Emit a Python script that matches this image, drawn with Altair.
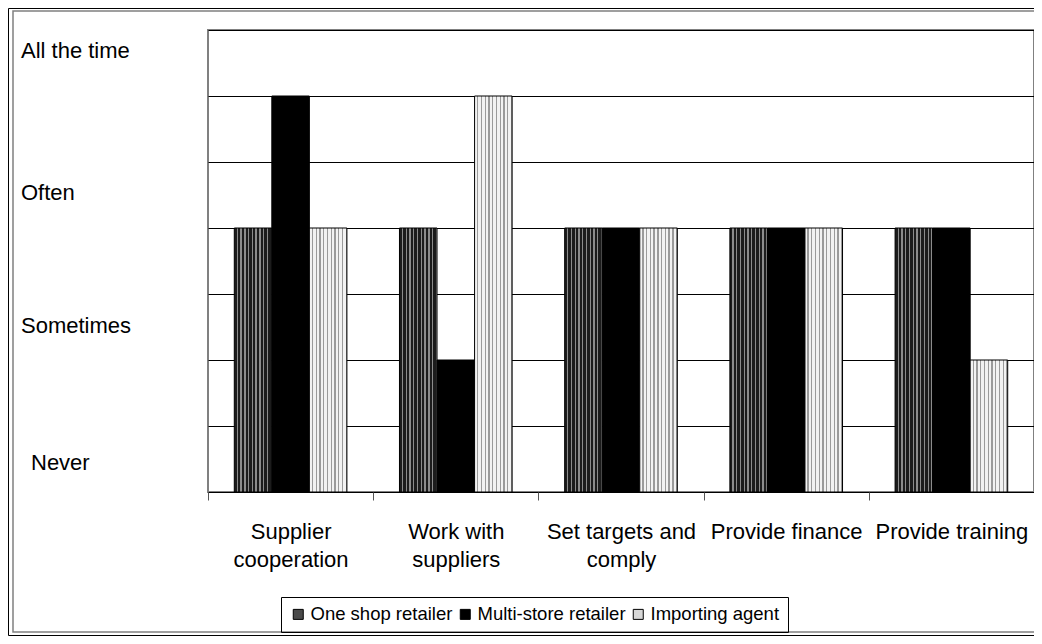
import json
import altair as alt
import pandas as pd

# ---------------- data ----------------
categories = ["Supplier cooperation", "Work with suppliers", "Set targets and comply",
              "Provide finance", "Provide training"]
wrapped = [["Supplier", "cooperation"], ["Work with", "suppliers"], ["Set targets and", "comply"],
           ["Provide finance"], ["Provide training"]]
series = ["One shop retailer", "Multi-store retailer", "Importing agent"]
one_shop = [4, 4, 4, 4, 4]
multi_store = [6, 2, 4, 4, 4]
importing = [4, 6, 4, 4, 2]

levels = ["All the time", "Often", "Sometimes"]
level_pos = [6.58, 4.42, 2.41]
never_label = ["Never"]
never_pos = [0.33]

rows = []
for s, vals in zip(series, [one_shop, multi_store, importing]):
    for c, v in zip(categories, vals):
        rows.append({"category": c, "series": s, "value": v})
df = pd.DataFrame(rows)

FONT = "Liberation Sans"


def stripes(c1, c2, n, frac):
    stops = []
    for i in range(n):
        a = i / n
        m = (i + 1 - frac) / n
        b = (i + 1) / n
        stops += [{"offset": a, "color": c1}, {"offset": m, "color": c1},
                  {"offset": m, "color": c2}, {"offset": b, "color": c2}]
    return {"gradient": "linear", "x1": 0, "y1": 0, "x2": 1, "y2": 0, "stops": stops}


grad_one = stripes("#1c1c1c", "#8c8c8c", 10, 0.35)
grad_imp = stripes("#f2f2f2", "#9a9a9a", 10, 0.35)

label_expr = " : ".join(
    f"datum.label == '{c}' ? {json.dumps(w)}" for c, w in zip(categories, wrapped)
) + " : datum.label"

W, H = 826, 462

bars = alt.Chart(df).mark_bar(stroke="black", strokeWidth=1).encode(
    x=alt.X("category:N", sort=categories,
            scale=alt.Scale(paddingInner=0, paddingOuter=0),
            axis=alt.Axis(title=None, labelAngle=0, labelExpr=label_expr,
                          labelFont=FONT, labelFontSize=22, labelColor="black",
                          labelLineHeight=28, labelPadding=21, labelBaseline="top",
                          labelLimit=300,
                          tickBand="extent", tickSize=8, tickColor="#555",
                          domain=False, grid=False)),
    xOffset=alt.XOffset("series:N", sort=series,
                        scale=alt.Scale(paddingOuter=0.7, paddingInner=0)),
    y=alt.Y("value:Q", scale=alt.Scale(domain=[0, 7], nice=False),
            axis=alt.Axis(values=list(range(8)), grid=True, gridColor="#000",
                          gridWidth=1, labels=False, ticks=False, domain=False,
                          title=None)),
    fill=alt.Fill("series:N", sort=series,
                  scale=alt.Scale(domain=series, range=["#4a4a4a", "#000000", "#d8d8d8"]),
                  legend=alt.Legend(title=None, orient="none", direction="horizontal",
                                    legendX=73, legendY=567,
                                    strokeColor="black", padding=8,
                                    labelFont=FONT, labelFontSize=18.5, labelColor="black",
                                    labelLimit=400,
                                    symbolType="square", symbolSize=100,
                                    symbolStrokeColor="black", symbolStrokeWidth=1,
                                    columnPadding=3, labelOffset=3),
                  condition=[{"test": "datum.series === 'One shop retailer'", "value": grad_one},
                             {"test": "datum.series === 'Importing agent'", "value": grad_imp}]),
)

lev_df = pd.DataFrame({"label": levels, "pos": level_pos})
never_df = pd.DataFrame({"label": never_label, "pos": never_pos})

lev_text = alt.Chart(lev_df).mark_text(align="left", baseline="alphabetic", font=FONT,
                                       fontSize=22, color="black").encode(
    x=alt.value(-187), y=alt.Y("pos:Q"), text="label:N")
never_text = alt.Chart(never_df).mark_text(align="left", baseline="alphabetic", font=FONT,
                                           fontSize=22, color="black").encode(
    x=alt.value(-177), y=alt.Y("pos:Q"), text="label:N")

one = pd.DataFrame({"a": [0]})
outer_black = alt.Chart(one).mark_rect(fillOpacity=0, stroke="black", strokeWidth=1).encode(
    x=alt.value(-199.5), x2=alt.value(840), y=alt.value(-21.5), y2=alt.value(605.5))
outer_gray = alt.Chart(one).mark_rect(fillOpacity=0, stroke="#808080", strokeWidth=1.5).encode(
    x=alt.value(-195), x2=alt.value(840), y=alt.value(-19), y2=alt.value(602))

chart = alt.layer(outer_black, outer_gray, bars, lev_text, never_text).properties(
    width=W, height=H,
    autosize=alt.AutoSizeParams(type="none"),
    padding={"left": 200, "top": 22, "right": 0, "bottom": 144},
).configure_view(stroke="#808080", strokeWidth=2)

chart.save("out.html", embed_options={"renderer": "svg", "actions": False})
